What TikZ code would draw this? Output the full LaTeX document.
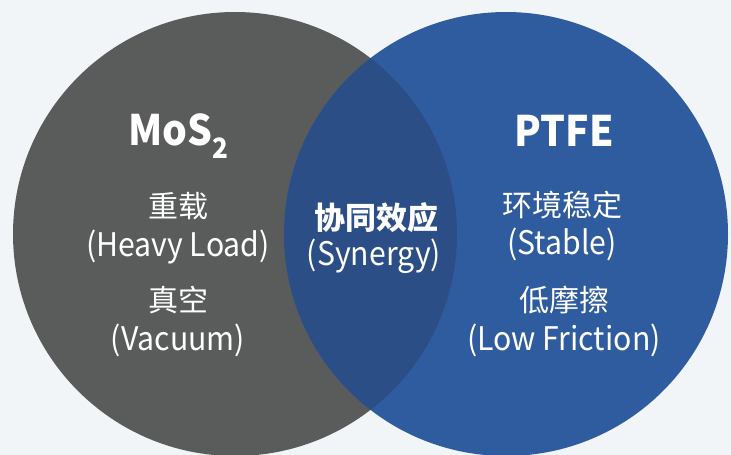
\documentclass[tikz,border=0pt]{standalone}
\usepackage{fontspec}
\setmainfont{Noto Sans CJK SC}
% narrower cut of the same face for the Latin lines and headings
\newfontfamily\narrowfont[FakeStretch=0.93]{Noto Sans CJK SC}
\definecolor{bgcol}{HTML}{F2F5F7}
\definecolor{mosfill}{HTML}{5A5B5B}
\definecolor{ptfefill}{HTML}{2F5C9F}
\definecolor{lensfill}{HTML}{2C4E87}
\tikzset{
  txt/.style={text=white, inner sep=0pt, anchor=center},
  head/.style={txt, font=\narrowfont\fontsize{42}{48}\selectfont\bfseries},
  cjkline/.style={txt, font=\fontsize{30}{34}\selectfont},
  latline/.style={txt, font=\narrowfont\fontsize{32.5}{36}\selectfont},
  midcjk/.style={txt, font=\fontsize{31}{34}\selectfont\bfseries},
}
\begin{document}
\begin{tikzpicture}[x=1pt, y=-1pt]
  \useasboundingbox (0,0) rectangle (731,455);
  \fill[bgcol] (0,0) rectangle (731,455);

  % the two sets and their overlap
  \fill[mosfill] (235,234) circle[radius=222];
  \fill[ptfefill] (506,234) circle[radius=222];
  \begin{scope}
    \clip (235,234) circle[radius=222];
    \fill[lensfill] (506,234) circle[radius=222];
  \end{scope}

  % MoS2 side
  \node[head] (mos) at (178,136) {MoS\raisebox{-0.3em}{\fontsize{28}{28}\selectfont 2}};
  \node[cjkline] (heavycn) at (178,206) {重载};
  \node[latline] (heavyen) at (178,247) {(Heavy Load)};
  \node[cjkline] (vaccn) at (178,300) {真空};
  \node[latline] (vacen) at (178,340) {(Vacuum)};

  % overlap
  \node[midcjk] (syncn) at (376,218) {协同效应};
  \node[latline] (synen) at (374,256) {(Synergy)};

  % PTFE side
  \node[head] (ptfe) at (564,131) {PTFE};
  \node[cjkline] (stabcn) at (562,205) {环境稳定};
  \node[latline] (staben) at (562,244) {(Stable)};
  \node[cjkline] (fricn) at (564,300) {低摩擦};
  \node[latline] (frien) at (564,340) {(Low Friction)};
\end{tikzpicture}
\end{document}
